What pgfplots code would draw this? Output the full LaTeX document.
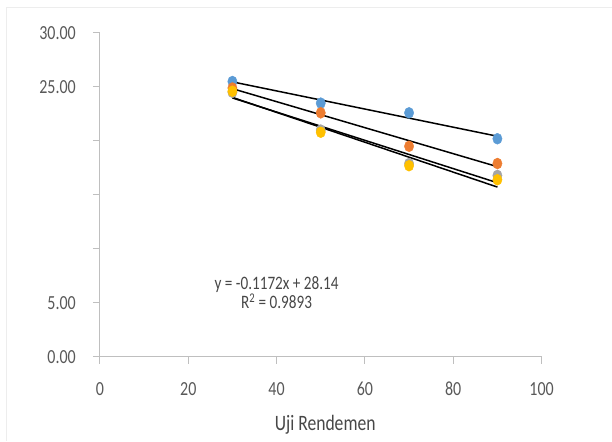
\documentclass[border=0pt]{standalone}
\usepackage{pgfplots}
\usepackage{pgfplotstable}
\pgfplotsset{compat=1.18}
\usepackage{fontspec}
\setmainfont{Carlito}[FakeStretch=0.8]
\definecolor{cblue}{HTML}{5B9BD5}
\definecolor{corange}{HTML}{ED7D31}
\definecolor{cgray}{HTML}{A5A5A5}
\definecolor{cyellow}{HTML}{FFC000}
\definecolor{axgray}{HTML}{BFBFBF}
\definecolor{txtgray}{HTML}{595959}
\pgfplotstableread{
x b o g yl
30 25.5 24.9 24.5 24.6
50 23.5 22.6 21.0 20.8
70 22.6 19.5 17.9 17.7
90 20.2 17.9 16.8 16.4
}\data
\begin{document}
\begin{tikzpicture}[x=1pt,y=1pt]
\path (0,0) rectangle (612,441);
\draw[black!7, line width=1pt] (7,0) -- (7,433) -- (612,433);
\begin{axis}[
  at={(100pt,84pt)}, anchor=origin,
  scale only axis, width=442pt, height=324pt,
  xmin=0, xmax=100, ymin=0, ymax=30,
  axis x line*=bottom, axis y line*=left,
  axis line style={axgray, line width=1pt},
  major tick style={axgray, line width=1pt},
  tick align=outside, major tick length=7pt,
  xtick={0,20,...,100}, xticklabels={0,20,40,60,80,100},
  ytick={0,5,...,30}, yticklabels={0.00,5.00,{},{},{},25.00,30.00},
  xticklabel style={font=\fontsize{20}{24}\selectfont, text=txtgray, yshift=-15pt},
  yticklabel style={font=\fontsize{20}{24}\selectfont, text=txtgray, anchor=east, inner sep=0pt, xshift=-17pt},
  xlabel={Uji Rendemen},
  xlabel style={font=\fontsize{22}{26}\selectfont, text=txtgray!80!black, at={(axis description cs:0.51,0)}, anchor=center, yshift=-68pt},
  clip=false,
]
\addplot[only marks, mark=*, mark size=5.5pt, mark options={xscale=0.85, draw=cblue, fill=cblue}] table[x=x,y=b]{\data};
\addplot[only marks, mark=*, mark size=5.5pt, mark options={xscale=0.85, draw=corange, fill=corange}] table[x=x,y=o]{\data};
\addplot[only marks, mark=*, mark size=5.5pt, mark options={xscale=0.85, draw=cgray, fill=cgray}] table[x=x,y=g]{\data};
\addplot[only marks, mark=*, mark size=5.5pt, mark options={xscale=0.85, draw=cyellow, fill=cyellow}] table[x=x,y=yl]{\data};
\addplot[black, line width=1.5pt, no marks] table[x=x, y={create col/linear regression={y=b}}]{\data};
\addplot[black, line width=1.5pt, no marks] table[x=x, y={create col/linear regression={y=o}}]{\data};
\addplot[black, line width=1.5pt, no marks] table[x=x, y={create col/linear regression={y=g}}]{\data};
\addplot[black, line width=1.5pt, no marks] table[x=x, y={create col/linear regression={y=yl}}]{\data};
\node[align=center, text=txtgray!80!black, font=\fontsize{19}{19}\selectfont] at (axis cs:40,5.9) {y = -0.1172x + 28.14\\R\textsuperscript{2} = 0.9893};
\end{axis}
\end{tikzpicture}
\end{document}
